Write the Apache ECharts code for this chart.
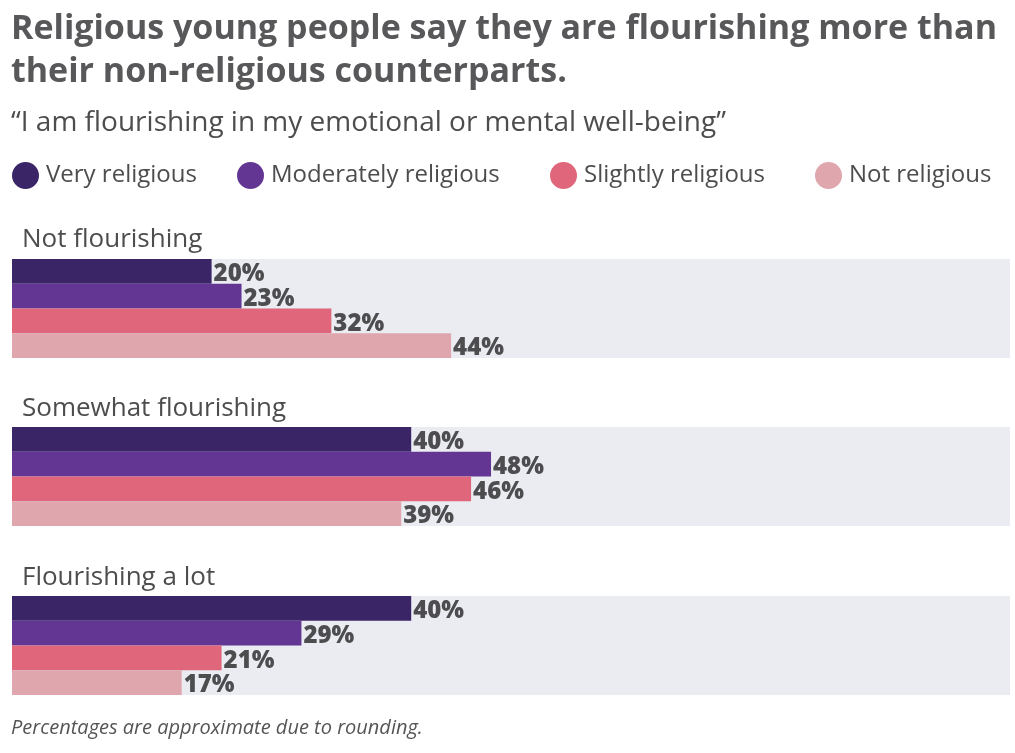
<!DOCTYPE html>
<html>
<head>
<meta charset="utf-8">
<script src="https://cdn.jsdelivr.net/npm/echarts@6/dist/echarts.min.js"></script>
<style>html,body{margin:0;padding:0;background:#fff}#c{width:1015px;height:753px}</style>
</head>
<body>
<div id="c"></div>
<script>
const groups = ['Not flourishing', 'Somewhat flourishing', 'Flourishing a lot'];
const seriesNames = ['Very religious', 'Moderately religious', 'Slightly religious', 'Not religious'];
const veryReligious = [20, 40, 40];
const moderatelyReligious = [23, 48, 29];
const slightlyReligious = [32, 46, 21];
const notReligious = [44, 39, 17];
const values = [veryReligious, moderatelyReligious, slightlyReligious, notReligious];
const colors = ['#3a2566', '#633694', '#e0677b', '#dfa6ae'];

const FONT = '"Open Sans", sans-serif';
const TEXT = '#4d4d4f';
const gridTops = [259, 427, 596];
const gridH = 99;
const labelTops = [227, 396, 565];
const legendLefts = [12, 237, 550, 815];

const grids = [], xAxes = [], yAxes = [], series = [], titles = [];
titles.push({
  text: 'Religious young people say they are flourishing more than\ntheir non-religious counterparts.',
  left: 11, top: 8, padding: 0,
  textStyle: {fontFamily: FONT, fontSize: 34, fontWeight: 'bold', color: '#58585a', lineHeight: 43}
});
titles.push({
  text: '\u201cI am flourishing in my emotional or mental well-being\u201d',
  left: 11, top: 109, padding: 0,
  textStyle: {fontFamily: FONT, fontSize: 28, fontWeight: 'normal', color: TEXT}
});
titles.push({
  text: 'Percentages are approximate due to rounding.',
  left: 11, top: 718, padding: 0,
  textStyle: {fontFamily: FONT, fontSize: 20, fontStyle: 'italic', fontWeight: 'normal', color: '#555'}
});
groups.forEach((g, i) => {
  titles.push({
    text: g, left: 22, top: labelTops[i], padding: 0,
    textStyle: {fontFamily: FONT, fontSize: 26, fontWeight: 'normal', color: TEXT}
  });
  grids.push({left: 12, width: 998, top: gridTops[i], height: gridH, show: true,
    backgroundColor: '#eaecf1', borderWidth: 0});
  xAxes.push({gridIndex: i, type: 'value', min: 0, max: 100, show: false});
  yAxes.push({gridIndex: i, type: 'category', data: [g], inverse: true, show: false});
  seriesNames.forEach((s, k) => {
    series.push({
      name: s, type: 'bar', xAxisIndex: i, yAxisIndex: i,
      data: [values[k][i]],
      barGap: 0, barCategoryGap: 0,
      itemStyle: {color: colors[k]},
      label: {show: true, position: 'right', distance: 2, offset: [0, 3], formatter: '{c}%',
        fontFamily: FONT, fontSize: 24, fontWeight: 800, color: '#4d4d4f'},
      emphasis: {disabled: true},
      animation: false
    });
  });
});

const legends = seriesNames.map((s, k) => ({
  data: [s], left: legendLefts[k], top: 162, padding: 0,
  icon: 'circle', itemWidth: 27, itemHeight: 27, itemGap: 0,
  textStyle: {fontFamily: FONT, fontSize: 24, color: TEXT, padding: [0, 0, 0, 2]},
  selectedMode: false
}));

const chart = echarts.init(document.getElementById('c'), null, {renderer: 'canvas'});
chart.setOption({
  animation: false,
  backgroundColor: '#fff',
  title: titles,
  legend: legends,
  grid: grids,
  xAxis: xAxes,
  yAxis: yAxes,
  series: series
});
</script>
</body>
</html>
